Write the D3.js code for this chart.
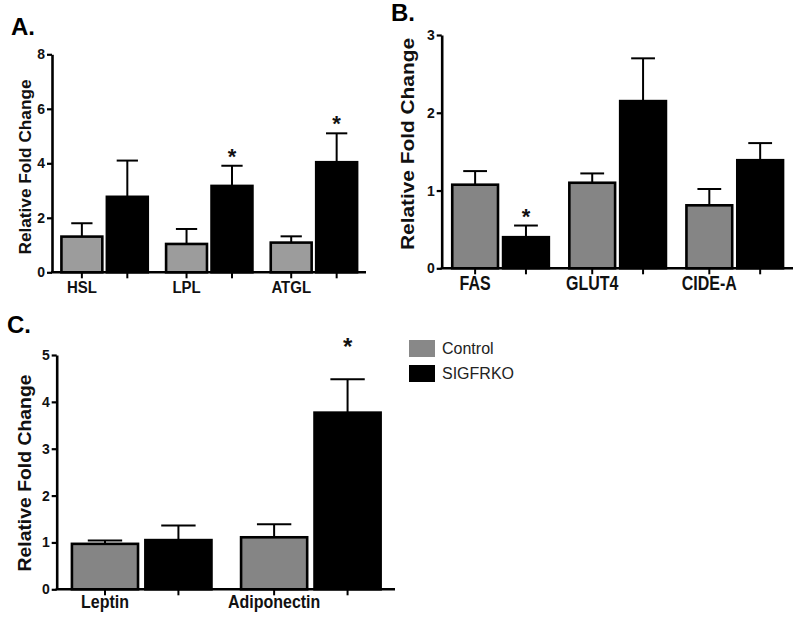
<!DOCTYPE html>
<html>
<head>
<meta charset="utf-8">
<script src="https://cdn.jsdelivr.net/npm/d3@7"></script>
<style>
  html, body { margin: 0; padding: 0; background: #fff; }
  svg { display: block; }
  text { font-family: Arial, "Liberation Sans", sans-serif; }
</style>
</head>
<body>
<svg id="chart" width="800" height="623"></svg>
<script>
// ---------- DATA ----------
const seriesNames = ["Control", "SIGFRKO"];

// Panel A
const catsA = ["HSL", "LPL", "ATGL"];
const controlA = [1.31, 1.04, 1.09];
const controlErrA = [0.49, 0.55, 0.23];
const sigfrkoA = [2.77, 3.17, 4.04];
const sigfrkoErrA = [1.33, 0.74, 1.06];
const starsA = [false, true, true];
const ticksA = [0, 2, 4, 6, 8];

// Panel B
const catsB = ["FAS", "GLUT4", "CIDE-A"];
const controlB = [1.075, 1.10, 0.81];
const controlErrB = [0.175, 0.12, 0.21];
const sigfrkoB = [0.40, 2.15, 1.39];
const sigfrkoErrB = [0.15, 0.55, 0.22];
const starsB = [true, false, false];
const ticksB = [0, 1, 2, 3];

// Panel C
const catsC = ["Leptin", "Adiponectin"];
const controlC = [0.97, 1.11];
const controlErrC = [0.07, 0.28];
const sigfrkoC = [1.05, 3.77];
const sigfrkoErrC = [0.31, 0.71];
const starsC = [false, true];
const ticksC = [0, 1, 2, 3, 4, 5];

// ---------- DRAW ----------
const svg = d3.select("#chart");

function panel(cfg) {
  const g = svg.append("g");
  const y = d3.scaleLinear().domain([0, cfg.ticks[cfg.ticks.length - 1]]).range([cfg.y0, cfg.yTop]);
  const x0 = d3.scaleBand().domain(cfg.cats).range([cfg.x0, cfg.x1]).paddingInner(0).paddingOuter(0);
  const gw = x0.bandwidth();
  const x1 = d3.scaleBand().domain(seriesNames).range([0.09 * gw, 0.915 * gw]).paddingInner(0.1);
  const bw = x1.bandwidth();

  const rows = [];
  cfg.cats.forEach((c, i) => {
    rows.push({cat: c, s: "Control", v: cfg.control[i], e: cfg.controlErr[i], star: false});
    rows.push({cat: c, s: "SIGFRKO", v: cfg.sigfrko[i], e: cfg.sigfrkoErr[i], star: cfg.stars[i]});
  });
  const cx = d => x0(d.cat) + x1(d.s) + bw / 2;

  // error bars
  const eb = g.append("g").attr("stroke", "#000").attr("stroke-width", cfg.errW);
  eb.selectAll("line.stem").data(rows).join("line")
    .attr("x1", cx).attr("x2", cx)
    .attr("y1", d => y(d.v)).attr("y2", d => y(d.v + d.e));
  eb.selectAll("line.cap").data(rows).join("line")
    .attr("x1", d => cx(d) - bw * 0.26).attr("x2", d => cx(d) + bw * 0.26)
    .attr("y1", d => y(d.v + d.e)).attr("y2", d => y(d.v + d.e));

  // bars
  g.append("g").selectAll("rect").data(rows).join("rect")
    .attr("x", d => x0(d.cat) + x1(d.s))
    .attr("width", bw)
    .attr("y", d => y(d.v))
    .attr("height", d => y(0) - y(d.v))
    .attr("fill", d => d.s === "Control" ? cfg.ctrlColor : "#000")
    .attr("stroke", "#000").attr("stroke-width", 2.6);

  // stars
  g.append("g").selectAll("text").data(rows.filter(d => d.star)).join("text")
    .attr("x", cx)
    .attr("y", d => y(d.v + d.e) - cfg.starGap)
    .attr("text-anchor", "middle")
    .attr("font-size", cfg.starSize).attr("font-weight", "bold")
    .attr("fill", "#111")
    .text("*");

  // y axis
  const ya = g.append("g").attr("transform", `translate(${cfg.x0},0)`)
    .call(d3.axisLeft(y).tickValues(cfg.ticks).tickFormat(d3.format("d")).tickSize(5).tickSizeOuter(0).tickPadding(2));
  ya.attr("font-size", cfg.tickFont).attr("font-family", "Arial, 'Liberation Sans', sans-serif");
  ya.select(".domain").attr("stroke-width", 2.6);
  ya.selectAll(".tick line").attr("stroke-width", 2.2);
  ya.selectAll(".tick text").attr("font-size", cfg.tickFont).attr("font-weight", "bold")
    .attr("fill", "#111");

  // x axis line
  g.append("line").attr("x1", cfg.x0 - 1).attr("x2", cfg.x1)
    .attr("y1", y(0)).attr("y2", y(0))
    .attr("stroke", "#000").attr("stroke-width", 2.6);
  g.append("g").selectAll("line").data(rows).join("line")
    .attr("x1", cx).attr("x2", cx)
    .attr("y1", y(0)).attr("y2", y(0) + 6)
    .attr("stroke", "#000").attr("stroke-width", 2);

  // category labels (under control bar)
  g.append("g").selectAll("text").data(cfg.cats).join("text")
    .attr("transform", c => `translate(${x0(c) + x1("Control") + bw / 2},${cfg.labelY}) scale(1,${cfg.catScaleY})`)
    .attr("text-anchor", "middle")
    .attr("font-size", cfg.catFont).attr("font-weight", "bold")
    .attr("fill", "#111")
    .text(c => c);

  // y label
  g.append("text")
    .attr("transform", `translate(${cfg.ylx},${cfg.yly}) rotate(-90)`)
    .attr("text-anchor", "middle")
    .attr("dominant-baseline", "central")
    .attr("font-size", cfg.ylFont).attr("font-weight", "bold")
    .attr("fill", "#111")
    .attr("textLength", cfg.ylLen).attr("lengthAdjust", "spacingAndGlyphs")
    .text("Relative Fold Change");

  // panel title
  g.append("text").attr("x", cfg.tx).attr("y", cfg.ty)
    .attr("font-size", 24).attr("font-weight", "bold").attr("fill", "#000")
    .text(cfg.title);
}

panel({
  title: "A.", tx: 11, ty: 35,
  cats: catsA, control: controlA, controlErr: controlErrA, sigfrko: sigfrkoA, sigfrkoErr: sigfrkoErrA, stars: starsA,
  ticks: ticksA, x0: 52, x1: 366, y0: 272.3, yTop: 54.3,
  ctrlColor: "#9c9c9c", errW: 2, starSize: 22, starGap: 2,
  tickFont: 14, catFont: 15, catScaleY: 1.05, labelY: 293,
  ylx: 25, yly: 167, ylFont: 17, ylLen: 175
});

panel({
  title: "B.", tx: 391, ty: 21,
  cats: catsB, control: controlB, controlErr: controlErrB, sigfrko: sigfrkoB, sigfrkoErr: sigfrkoErrB, stars: starsB,
  ticks: ticksB, x0: 441.7, x1: 793, y0: 268.3, yTop: 35,
  ctrlColor: "#858585", errW: 2, starSize: 22, starGap: 2,
  tickFont: 14, catFont: 16, catScaleY: 1.3, labelY: 290,
  ylx: 407.5, yly: 144, ylFont: 19, ylLen: 212
});

panel({
  title: "C.", tx: 7, ty: 333,
  cats: catsC, control: controlC, controlErr: controlErrC, sigfrko: sigfrkoC, sigfrkoErr: sigfrkoErrC, stars: starsC,
  ticks: ticksC, x0: 56.7, x1: 395, y0: 589.3, yTop: 355,
  ctrlColor: "#858585", errW: 2, starSize: 24, starGap: 24,
  tickFont: 14, catFont: 16, catScaleY: 1.1, labelY: 608,
  ylx: 24.5, yly: 473, ylFont: 19, ylLen: 197
});

// legend
const legendColors = ["#888888", "#000000"];
const lg = svg.append("g").attr("transform", "translate(409,340)");
lg.selectAll("rect").data(seriesNames).join("rect")
  .attr("x", 0).attr("y", (d, i) => i * 25)
  .attr("width", 26).attr("height", 17)
  .attr("fill", (d, i) => legendColors[i]);
lg.selectAll("text").data(seriesNames).join("text")
  .attr("x", 33).attr("y", (d, i) => i * 25 + 8.5)
  .attr("dominant-baseline", "central")
  .attr("font-size", 16).attr("fill", "#222")
  .text(d => d);
</script>
</body>
</html>
